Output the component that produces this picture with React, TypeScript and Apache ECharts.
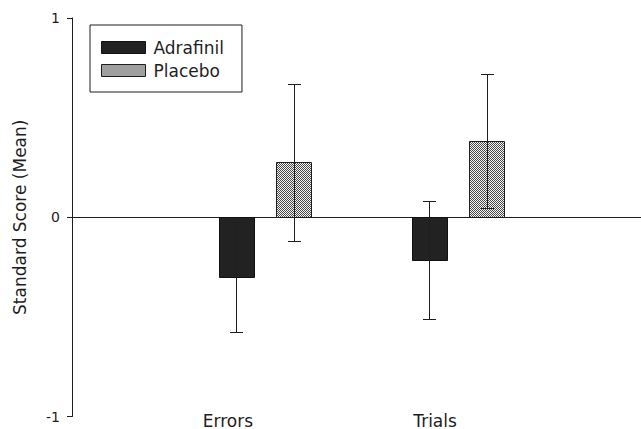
import React, { useEffect, useRef } from "react";
import * as echarts from "echarts";

const categories = ["Errors", "Trials"];
const seriesNames = ["Adrafinil", "Placebo"];
const adrafinilMean = [-0.3, -0.217];
const adrafinilLow = [-0.575, -0.512];
const adrafinilHigh = [-0.025, 0.083];
const placeboMean = [0.275, 0.383];
const placeboLow = [-0.117, 0.047];
const placeboHigh = [0.67, 0.718];
const yTickValues = [-1, 0, 1];

const FONT = "DejaVu Sans";
const INK = "#1e1e1e";
const BAR_W = 35;
const BAR_GAP = 0.65;
const CAP_HALF = 6.5;
const X_MAX = 2.948;
const LABEL_AT = [0.808, 1.881];

function makeStipple(): any {
  const c = document.createElement("canvas");
  c.width = 2;
  c.height = 2;
  const ctx = c.getContext("2d")!;
  ctx.fillStyle = "#f4f4f4";
  ctx.fillRect(0, 0, 2, 2);
  ctx.fillStyle = "#4a4a4a";
  ctx.fillRect(0, 0, 1, 1);
  ctx.fillRect(1, 1, 1, 1);
  return { image: c, repeat: "repeat", imageWidth: 2, imageHeight: 2 };
}

export default function App() {
  const ref = useRef<HTMLDivElement>(null);
  useEffect(() => {
    if (!ref.current) return;
    const chart = echarts.init(ref.current, undefined, { renderer: "svg" });
    const offset = (BAR_W + BAR_W * BAR_GAP) / 2;
    const stipple = makeStipple();
    const adrStyle = { color: "#222222", borderColor: "#111111", borderWidth: 1 };
    const plaStyle = { color: stipple, borderColor: INK, borderWidth: 1 };

    const barSeries = (name: string, mean: number[], dir: number, itemStyle: any) => ({
      type: "custom",
      name,
      xAxisIndex: 0,
      yAxisIndex: 0,
      z: 2,
      encode: { x: 0, y: 1 },
      itemStyle,
      data: categories.map((_, i) => [i + 1, mean[i]]),
      renderItem: (params: any, api: any) => {
        const x = api.value(0);
        const v = api.value(1);
        const p0 = api.coord([x, 0]);
        const p1 = api.coord([x, v]);
        const cx = p0[0] + dir * offset;
        const left = Math.round(cx - BAR_W / 2) + 0.5;
        const top = Math.round(Math.min(p0[1], p1[1])) + 0.5;
        const bottom = Math.round(Math.max(p0[1], p1[1])) + 0.5;
        return {
          type: "rect",
          shape: { x: left, y: top, width: BAR_W, height: bottom - top },
          style: api.style(),
        };
      },
    });

    const errorSeries = (name: string, low: number[], high: number[], dir: number) => ({
      type: "custom",
      name: name + " error",
      xAxisIndex: 0,
      yAxisIndex: 0,
      z: 10,
      silent: true,
      encode: { x: 0, y: [1, 2] },
      data: categories.map((_, i) => [i + 1, low[i], high[i]]),
      renderItem: (params: any, api: any) => {
        const x = api.value(0);
        const lo = api.value(1);
        const hi = api.value(2);
        const cx = Math.round(api.coord([x, 0])[0] + dir * offset) + 0.5;
        const yl = Math.round(api.coord([x, lo])[1]) + 0.5;
        const yh = Math.round(api.coord([x, hi])[1]) + 0.5;
        const style = { stroke: INK, lineWidth: 1 };
        return {
          type: "group",
          children: [
            { type: "line", shape: { x1: cx, y1: yl, x2: cx, y2: yh }, style },
            { type: "line", shape: { x1: cx - CAP_HALF, y1: yh, x2: cx + CAP_HALF, y2: yh }, style },
            { type: "line", shape: { x1: cx - CAP_HALF, y1: yl, x2: cx + CAP_HALF, y2: yl }, style },
          ],
        };
      },
    });

    chart.setOption({
      animation: false,
      backgroundColor: "#ffffff",
      grid: { left: 72, top: 18, right: 0, height: 400, containLabel: false },
      legend: {
        data: [
          { name: seriesNames[0], itemStyle: adrStyle },
          { name: seriesNames[1], itemStyle: plaStyle },
        ],
        orient: "vertical",
        left: 90,
        top: 25,
        padding: [14, 18, 13, 11],
        itemWidth: 44,
        itemHeight: 12,
        itemGap: 6,
        icon: "rect",
        borderColor: INK,
        borderWidth: 1,
        textStyle: { fontFamily: FONT, fontSize: 17, color: INK, padding: [0, 0, 0, 3] },
      },
      xAxis: [
        {
          type: "value",
          min: 0,
          max: X_MAX,
          position: "top",
          axisLine: { show: true, onZero: true, lineStyle: { color: INK, width: 1 } },
          axisTick: { show: false },
          axisLabel: { show: false },
          splitLine: { show: false },
        },
        {
          type: "value",
          min: 0,
          max: X_MAX,
          position: "bottom",
          axisLine: { show: false },
          axisTick: { show: false },
          splitLine: { show: false },
          axisLabel: {
            show: true,
            customValues: LABEL_AT,
            formatter: (v: number) => {
              const idx = LABEL_AT.findIndex((p) => Math.abs(p - v) < 1e-6);
              return idx >= 0 ? categories[idx] : "";
            },
            verticalAlign: "middle",
            margin: 4,
            fontFamily: FONT,
            fontSize: 17,
            color: INK,
          },
        },
      ],
      yAxis: {
        type: "value",
        min: yTickValues[0],
        max: yTickValues[yTickValues.length - 1],
        interval: 1,
        name: "Standard Score (Mean)",
        nameLocation: "middle",
        nameGap: 44,
        nameTextStyle: { fontFamily: FONT, fontSize: 17, color: INK },
        axisLine: { show: true, onZero: false, lineStyle: { color: INK, width: 1 } },
        axisTick: { show: true, inside: false, length: 5, lineStyle: { color: INK } },
        axisLabel: { fontFamily: FONT, fontSize: 14, color: INK, margin: 12 },
        splitLine: { show: false },
      },
      series: [
        barSeries(seriesNames[0], adrafinilMean, -1, adrStyle),
        barSeries(seriesNames[1], placeboMean, 1, plaStyle),
        errorSeries(seriesNames[0], adrafinilLow, adrafinilHigh, -1),
        errorSeries(seriesNames[1], placeboLow, placeboHigh, 1),
      ],
    } as any);
    return () => chart.dispose();
  }, []);
  return <div ref={ref} style={{ width: 641, height: 429, position: "absolute", left: 0, top: 0 }} />;
}
